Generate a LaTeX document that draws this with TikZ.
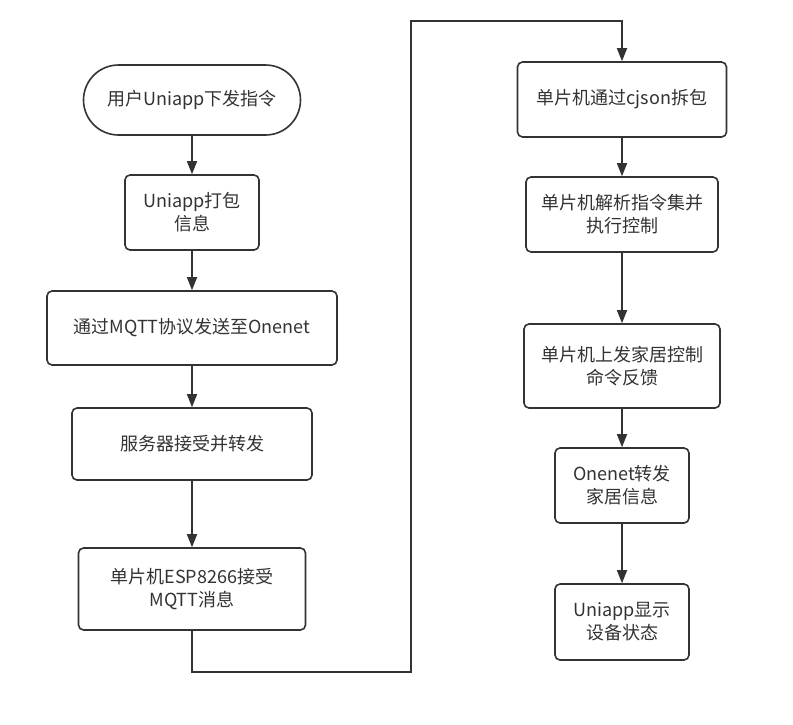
\documentclass[tikz,border=0pt]{standalone}
\usepackage{fontspec}
\setmainfont{Noto Sans CJK SC}
\usetikzlibrary{arrows.meta}
\begin{document}
\begin{tikzpicture}[x=1pt,y=-1pt,
  box/.style={draw=black!80, line width=1.6pt, rounded corners=5pt, fill=white, align=center,
    font=\fontsize{18}{23}\selectfont, text=black!80, inner sep=0pt},
  arr/.style={draw=black!80, line width=1.6pt, -{Triangle[length=13pt,width=10pt]}}]
\useasboundingbox (0,0) rectangle (793,724);
% left column
\node[box, rounded corners=35pt, minimum width=217pt, minimum height=70pt] (s) at (192,100) {用户Uniapp下发指令};
\node[box, minimum width=134pt, minimum height=75pt] (b2) at (192,212.5) {Uniapp打包\\信息};
\node[box, minimum width=290pt, minimum height=74pt] (b3) at (192,328) {通过MQTT协议发送至Onenet};
\node[box, minimum width=240pt, minimum height=72pt] (b4) at (192,444) {服务器接受并转发};
\node[box, minimum width=227pt, minimum height=82pt] (b5) at (192,589) {单片机ESP8266接受\\MQTT消息};
% right column
\node[box, minimum width=209pt, minimum height=75pt] (r1) at (622,99.5) {单片机通过cjson拆包};
\node[box, minimum width=192pt, minimum height=75pt] (r2) at (622,214.5) {单片机解析指令集并\\执行控制};
\node[box, minimum width=196pt, minimum height=84pt] (r3) at (622,366) {单片机上发家居控制\\命令反馈};
\node[box, minimum width=134pt, minimum height=75pt] (r4) at (622,485.5) {Onenet转发\\家居信息};
\node[box, minimum width=134pt, minimum height=76pt] (r5) at (622,622) {Uniapp显示\\设备状态};
% connectors
\draw[arr] (s) -- (b2);
\draw[arr] (b2) -- (b3);
\draw[arr] (b3) -- (b4);
\draw[arr] (b4) -- (b5);
\coordinate (c1) at (411,672);
\coordinate (c2) at (411,21);
\draw[arr] (b5.south) |- (c1) -- (c2) -| (r1.north);
\draw[arr] (r1) -- (r2);
\draw[arr] (r2) -- (r3);
\draw[arr] (r3) -- (r4);
\draw[arr] (r4) -- (r5);
\end{tikzpicture}
\end{document}
